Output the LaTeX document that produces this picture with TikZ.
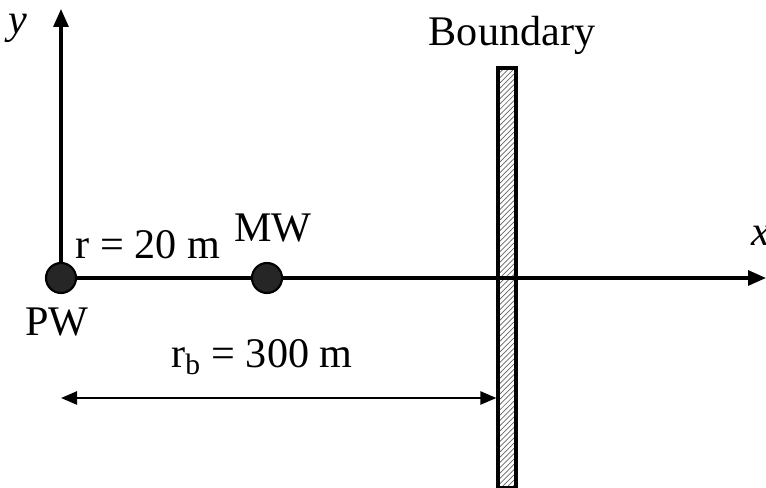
\documentclass[tikz,border=0pt]{standalone}
\usepackage{fontspec}
\setmainfont{Liberation Serif}
\usepackage{tikz}
\usetikzlibrary{arrows.meta,positioning,patterns}

\begin{document}
\begin{tikzpicture}[
well/.style={circle,draw=black,line width=1.2pt,fill=black!85,minimum size=6mm,inner sep=0pt},
lab/.style={font=\fontsize{24}{28}\selectfont,inner sep=0pt},
axis/.style={-{Triangle[length=3.6mm,width=3mm]},line width=1.8pt},
dim/.style={{Triangle[length=3.2mm,width=2.6mm]}-{Triangle[length=3.2mm,width=2.6mm]},line width=1.4pt}]
\useasboundingbox (0,0) rectangle (15.32,9.76);
\node[draw,line width=1.8pt,pattern=north east lines,pattern color=black!60,minimum width=3.6mm,minimum height=84mm,inner sep=0pt] (bnd) at (10.14,4.2) {};
\coordinate (O) at (1.22,4.2);
\coordinate (ytop) at (1.22,9.58);
\coordinate (xend) at (15.32,4.2);
\draw[axis] (O) -- (ytop);
\draw[axis] (O) -- (xend);
\node[well] (pw) at (O) {};
\node[well] (mw) at (5.34,4.2) {};
\node[lab] (ylab) at (0.36,9.2) {\textit{y}};
\node[lab] (xlab) at (15.22,5.04) {\textit{x}};
\node[lab] (btext) at (10.24,9.06) {Boundary};
\node[lab] (mwtext) at (5.46,5.2) {MW};
\node[lab] (rtext) at (2.96,4.86) {r = 20 m};
\node[lab] (pwtext) at (1.14,3.32) {PW};
\node[lab] (rbtext) at (5.24,2.62) {r\textsubscript{b} = 300 m};
\coordinate (rbL) at (1.22,1.8);
\draw[dim] (rbL) -- (bnd.west |- rbL);
\end{tikzpicture}
\end{document}
